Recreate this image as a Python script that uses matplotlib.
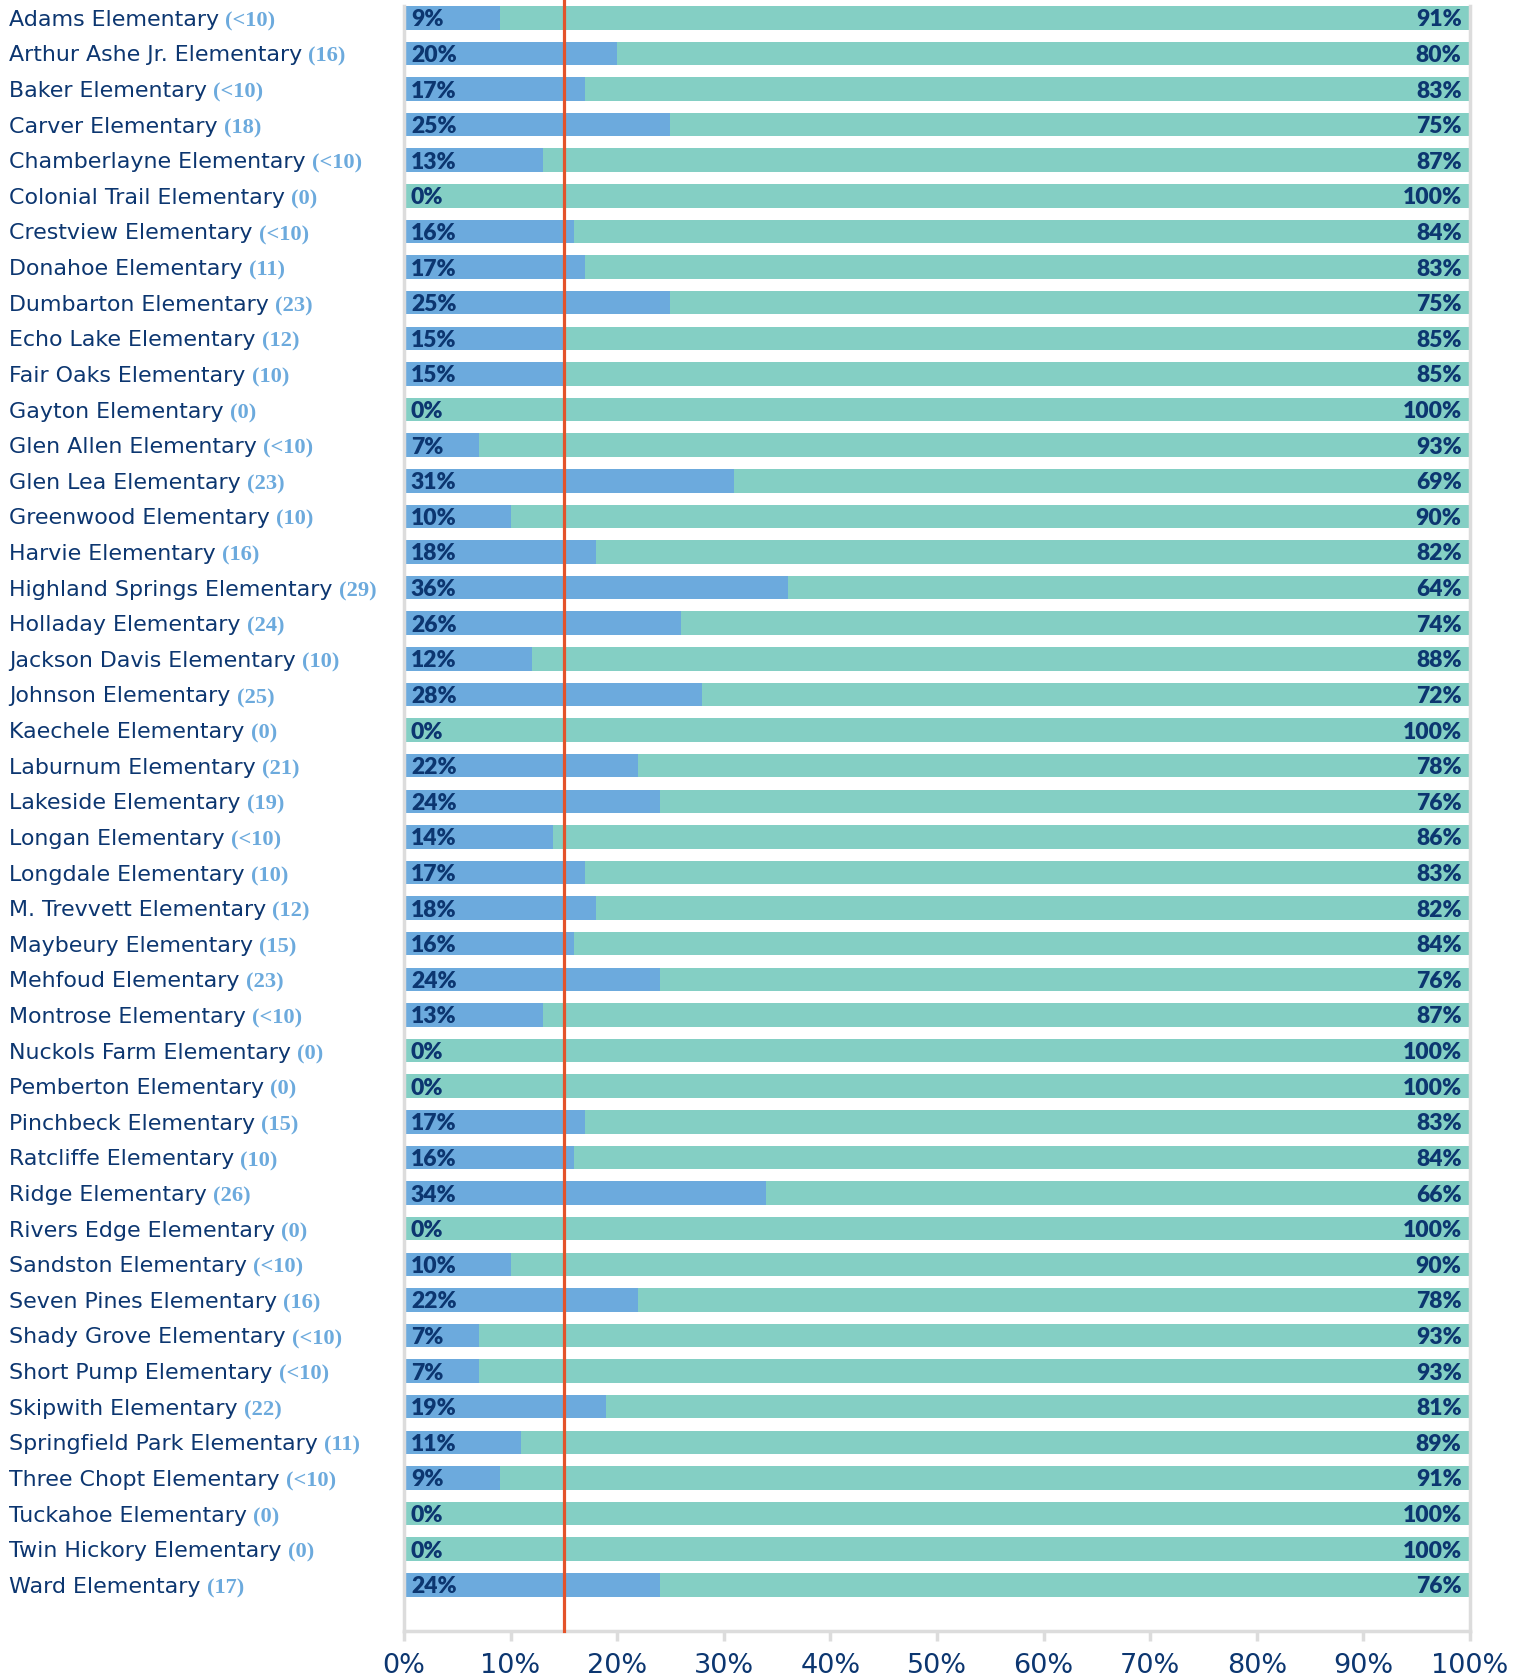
import matplotlib
matplotlib.use('Agg')
import matplotlib.pyplot as plt
import matplotlib.transforms as mtransforms

# data
Schools = ['Adams Elementary', 'Arthur Ashe Jr. Elementary', 'Baker Elementary', 'Carver Elementary',
           'Chamberlayne Elementary', 'Colonial Trail Elementary', 'Crestview Elementary',
           'Donahoe Elementary', 'Dumbarton Elementary', 'Echo Lake Elementary', 'Fair Oaks Elementary',
           'Gayton Elementary', 'Glen Allen Elementary', 'Glen Lea Elementary', 'Greenwood Elementary',
           'Harvie Elementary', 'Highland Springs Elementary', 'Holladay Elementary',
           'Jackson Davis Elementary', 'Johnson Elementary', 'Kaechele Elementary', 'Laburnum Elementary',
           'Lakeside Elementary', 'Longan Elementary', 'Longdale Elementary', 'M. Trevvett Elementary',
           'Maybeury Elementary', 'Mehfoud Elementary', 'Montrose Elementary', 'Nuckols Farm Elementary',
           'Pemberton Elementary', 'Pinchbeck Elementary', 'Ratcliffe Elementary', 'Ridge Elementary',
           'Rivers Edge Elementary', 'Sandston Elementary', 'Seven Pines Elementary',
           'Shady Grove Elementary', 'Short Pump Elementary', 'Skipwith Elementary',
           'Springfield Park Elementary', 'Three Chopt Elementary', 'Tuckahoe Elementary',
           'Twin Hickory Elementary', 'Ward Elementary']
Counts = ['<10', '16', '<10', '18', '<10', '0', '<10', '11', '23', '12', '10', '0', '<10', '23', '10',
          '16', '29', '24', '10', '25', '0', '21', '19', '<10', '10', '12', '15', '23', '<10', '0', '0',
          '15', '10', '26', '0', '<10', '16', '<10', '<10', '22', '11', '<10', '0', '0', '17']
BluePct = [9, 20, 17, 25, 13, 0, 16, 17, 25, 15, 15, 0, 7, 31, 10, 18, 36, 26, 12, 28, 0, 22, 24, 14,
           17, 18, 16, 24, 13, 0, 0, 17, 16, 34, 0, 10, 22, 7, 7, 19, 11, 9, 0, 0, 24]
TealPct = [91, 80, 83, 75, 87, 100, 84, 83, 75, 85, 85, 100, 93, 69, 90, 82, 64, 74, 88, 72, 100, 78,
           76, 86, 83, 82, 84, 76, 87, 100, 100, 83, 84, 66, 100, 90, 78, 93, 93, 81, 89, 91, 100,
           100, 76]
Target = 15
XTicks = [0, 10, 20, 30, 40, 50, 60, 70, 80, 90, 100]

BLUE = '#6caadd'
TEAL = '#84cfc4'
NAVY = '#0c3670'
RED = '#e4532a'
GREY = '#dcdcdc'

fig = plt.figure(figsize=(15.14, 16.76), dpi=100)
ax = fig.add_axes([0.2668, 0.0268, 0.7041, 0.9696])

y = list(range(len(Schools)))
ax.barh(y, BluePct, height=0.66, color=BLUE, zorder=2)
ax.barh(y, TealPct, left=BluePct, height=0.66, color=TEAL, zorder=2)
ax.axvline(Target, color=RED, lw=2.3, zorder=3, ymax=1.01, clip_on=False)

ax.set_xlim(0, 100)
ax.set_ylim(45.3, -0.33)

# value labels
for i in y:
    ax.annotate('%d%%' % BluePct[i], xy=(0, i), xytext=(5, 0), textcoords='offset points',
                ha='left', va='center_baseline', fontsize=16.5, fontweight='heavy', family='Lato',
                color=NAVY, zorder=4)
    ax.annotate('%d%%' % TealPct[i], xy=(100, i), xytext=(-6, 0), textcoords='offset points',
                ha='right', va='center_baseline', fontsize=16.5, fontweight='heavy', family='Lato',
                color=NAVY, zorder=4)

# school names + counts on the left
trans = mtransforms.blended_transform_factory(fig.transFigure, ax.transData)
names = []
for i in y:
    t = ax.text(0.006, i, Schools[i], transform=trans, ha='left', va='center_baseline',
                fontsize=15.9, family='DejaVu Sans', color=NAVY)
    names.append(t)

fig.canvas.draw()
renderer = fig.canvas.get_renderer()
figw = fig.get_figwidth() * fig.dpi
for i, t in zip(y, names):
    bb = t.get_window_extent(renderer)
    ax.text(bb.x1 / figw + 0.004, i + 0.03, '(%s)' % Counts[i], transform=trans, ha='left',
            va='center_baseline', fontsize=16.2, family='Liberation Serif', fontweight='bold',
            color=BLUE)

# spines and ticks
for s in ['left', 'bottom', 'right']:
    ax.spines[s].set_color(GREY)
    ax.spines[s].set_linewidth(2.5)
ax.spines['top'].set_visible(False)
ax.set_yticks([])
ax.set_xticks(XTicks)
ax.set_xticklabels(['%d%%' % v for v in XTicks])
ax.tick_params(axis='x', colors=GREY, length=7, width=2.5, pad=9, labelcolor=NAVY,
               labelsize=19.5)
for lab in ax.get_xticklabels():
    lab.set_family(['Liberation Sans Narrow', 'DejaVu Sans'])

fig.savefig('out.png', dpi=100)
